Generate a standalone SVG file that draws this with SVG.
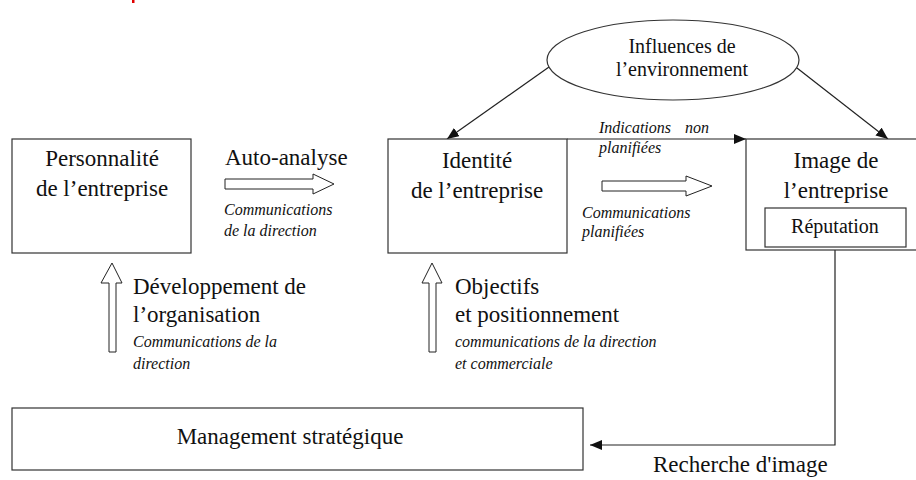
<svg xmlns="http://www.w3.org/2000/svg" width="916" height="480" viewBox="0 0 916 480" font-family="'Liberation Serif', 'Noto Serif', 'DejaVu Serif', 'Times New Roman', Times, serif">
<defs>
<style>
.box{fill:#fff;stroke:#333;stroke-width:1.2}
text{font-family:'Liberation Serif','Noto Serif','DejaVu Serif','Times New Roman',Times,serif}
.t{fill:#111}
.big{font-size:23px}
.mid{font-size:20px}
.it{font-size:16px;font-style:italic}
.ln{fill:none;stroke:#222;stroke-width:1.2}
.blk{fill:#fff;stroke:#222;stroke-width:1}
</style>
<marker id="ah" viewBox="0 0 12 10" refX="12" refY="5" markerWidth="12" markerHeight="10" markerUnits="userSpaceOnUse" orient="auto">
<path d="M0,0 L12,5 L0,10 Z" fill="#111"/>
</marker>
</defs>
<rect x="132" y="0" width="2.5" height="3" fill="#e00000"/>
<g id="connectors">
<line class="ln" x1="549" y1="67" x2="447" y2="139" marker-end="url(#ah)"/>
<line class="ln" x1="797" y1="68" x2="888" y2="139" marker-end="url(#ah)"/>
<line class="ln" x1="567" y1="139" x2="746" y2="139" marker-end="url(#ah)"/>
<polyline class="ln" points="835,250 835,445 590,445" marker-end="url(#ah)"/>
<polygon class="blk" points="225,179 313,179 313,174 334,184 313,194 313,189 225,189"/>
<polygon class="blk" points="602,181 686,181 686,176 712,186 686,196 686,191 602,191"/>
<polygon class="blk" points="112,263 122,283 116,283 116,352 109,352 109,283 101,283"/>
<polygon class="blk" points="432,263 442,283 436,283 436,352 429,352 429,283 422,283"/>
</g>
<g id="personnalite">
<rect class="box" x="12" y="139" width="179" height="114"/>
<text class="t big" x="102" y="166" text-anchor="middle">Personnalité</text>
<text class="t big" x="102" y="196" text-anchor="middle">de l’entreprise</text>
</g>
<g id="identite">
<rect class="box" x="388" y="139" width="179" height="114"/>
<text class="t big" x="477" y="168" text-anchor="middle">Identité</text>
<text class="t big" x="477" y="198" text-anchor="middle">de l’entreprise</text>
</g>
<g id="image">
<rect class="box" x="746" y="139" width="180" height="111"/>
<text class="t big" x="836" y="168" text-anchor="middle">Image de</text>
<text class="t big" x="836" y="198" text-anchor="middle">l’entreprise</text>
</g>
<g id="reputation">
<rect class="box" x="765" y="208" width="141" height="39"/>
<text class="t mid" x="835" y="233" text-anchor="middle">Réputation</text>
</g>
<g id="influences">
<ellipse class="box" cx="673" cy="60" rx="126" ry="40"/>
<text class="t mid" x="682" y="53" text-anchor="middle">Influences de</text>
<text class="t mid" x="682" y="76" text-anchor="middle">l’environnement</text>
</g>
<g id="management">
<rect class="box" x="12" y="408" width="571" height="62"/>
<text class="t big" x="290" y="444" text-anchor="middle">Management stratégique</text>
</g>
<g id="labels">
<text class="t big" x="225" y="165">Auto-analyse</text>
<text class="t it" x="224" y="215">Communications</text>
<text class="t it" x="224" y="236">de la direction</text>
<text class="t it" x="599" y="133">Indications<tspan x="685">non</tspan></text>
<text class="t it" x="599" y="153">planifiées</text>
<text class="t it" x="582" y="218">Communications</text>
<text class="t it" x="582" y="237">planifiées</text>
<text class="t big" x="133" y="294">Développement de</text>
<text class="t big" x="133" y="322">l’organisation</text>
<text class="t it" x="133" y="347">Communications de la</text>
<text class="t it" x="133" y="369">direction</text>
<text class="t big" x="455" y="294">Objectifs</text>
<text class="t big" x="455" y="322">et positionnement</text>
<text class="t it" x="455" y="347">communications de la direction</text>
<text class="t it" x="455" y="369">et commerciale</text>
<text class="t big" x="653" y="472">Recherche d'image</text>
</g>
</svg>
